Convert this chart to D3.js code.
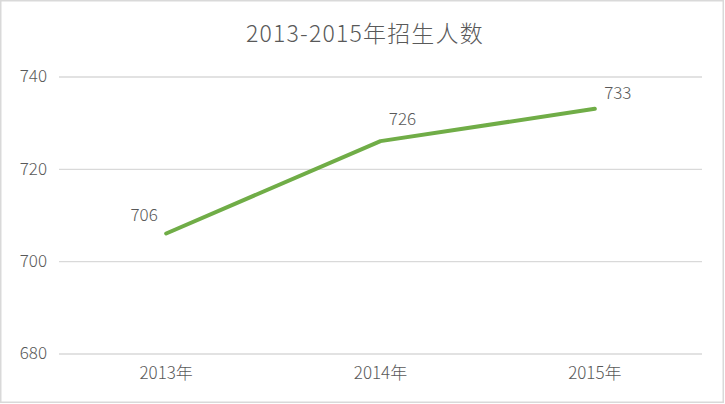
<!DOCTYPE html>
<html>
<head>
<meta charset="utf-8">
<script src="https://cdn.jsdelivr.net/npm/d3@7"></script>
<style>
  html, body { margin: 0; padding: 0; background: #fff; }
  svg { display: block; }
  text { font-family: "Noto Sans CJK SC", "Noto Sans", sans-serif; fill: #595959; font-weight: 300; }
</style>
</head>
<body>
<svg id="chart" width="725" height="404"></svg>
<script>
const title = "2013-2015年招生人数";
const categories = ["2013年", "2014年", "2015年"];
const values = [706, 726, 733];
const yTicks = [680, 700, 720, 740];

const W = 725, H = 404;
const margin = { left: 59, right: 23, top: 76.5, bottom: 50.5 };
const svg = d3.select("#chart");
const FF = '"Noto Sans CJK SC", "Noto Sans", sans-serif';

svg.append("rect")
  .attr("x", 0.75).attr("y", 0.75)
  .attr("width", W - 2.5).attr("height", H - 2.5)
  .attr("fill", "#fff").attr("stroke", "#d9d9d9").attr("stroke-width", 1.5);

const x = d3.scaleBand().domain(categories)
  .range([margin.left, W - margin.right]).padding(0);
const y = d3.scaleLinear().domain([680, 740])
  .range([H - margin.bottom, margin.top]);

// gridlines + y labels
const yAxis = d3.axisLeft(y).tickValues(yTicks)
  .tickSize(-(W - margin.left - margin.right)).tickPadding(12);
const gy = svg.append("g").attr("transform", `translate(${margin.left},0)`).call(yAxis);
gy.select(".domain").remove();
gy.selectAll(".tick line").attr("stroke", "#d9d9d9").attr("stroke-width", 1.3);
gy.selectAll(".tick text").attr("font-size", 17).attr("fill", "#595959")
  .style("font-family", FF).style("font-weight", 300);

// x labels
const xAxis = d3.axisBottom(x).tickSize(0).tickPadding(13);
const gx = svg.append("g").attr("transform", `translate(0,${H - margin.bottom})`).call(xAxis);
gx.select(".domain").remove();
gx.selectAll(".tick text").attr("font-size", 17).attr("fill", "#595959")
  .style("font-family", FF).style("font-weight", 300);

// line
const pts = categories.map((c, i) => ({ c, v: values[i] }));
const line = d3.line().x(d => x(d.c) + x.bandwidth() / 2).y(d => y(d.v));
svg.append("path").datum(pts)
  .attr("d", line)
  .attr("fill", "none").attr("stroke", "#70ad47")
  .attr("stroke-width", 4).attr("stroke-linecap", "round").attr("stroke-linejoin", "round");

// data labels
const labelOffsets = [[-22, -12], [22, -16], [23, -10]];
svg.selectAll(".dl").data(pts).enter().append("text")
  .attr("class", "dl")
  .attr("x", (d, i) => x(d.c) + x.bandwidth() / 2 + labelOffsets[i][0])
  .attr("y", (d, i) => y(d.v) + labelOffsets[i][1])
  .attr("text-anchor", "middle").attr("font-size", 17)
  .text(d => d.v);

// title
svg.append("text").attr("x", 365).attr("y", 42)
  .attr("text-anchor", "middle").attr("font-size", 23)
  .attr("letter-spacing", 1.2)
  .text(title);
</script>
</body>
</html>
